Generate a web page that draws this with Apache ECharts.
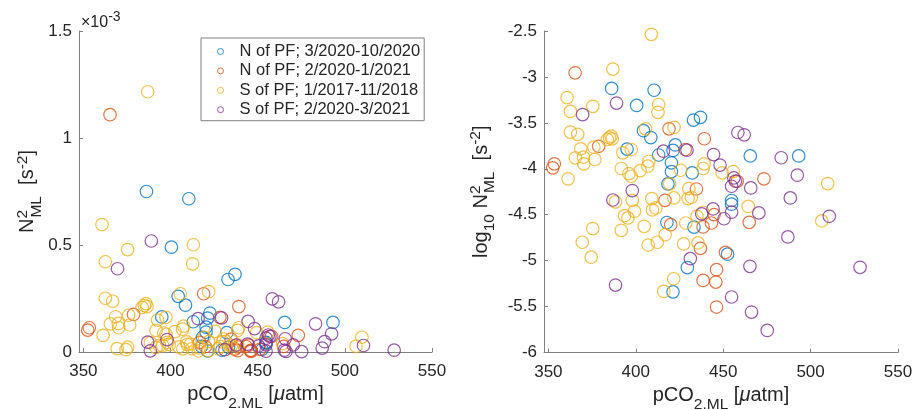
<!DOCTYPE html>
<html>
<head>
<meta charset="utf-8">
<script src="https://cdn.jsdelivr.net/npm/echarts@6/dist/echarts.min.js"></script>
<style>html,body{margin:0;padding:0;background:#fff}#c{width:916px;height:410px}</style>
</head>
<body>
<div id="c"></div>
<script>
// ---- data (pCO2 in uatm, log10 of N^2 in s^-2) ----
const seriesNames = ['N of PF; 3/2020-10/2020', 'N of PF; 2/2020-1/2021', 'S of PF; 1/2017-11/2018', 'S of PF; 2/2020-3/2021'];
const xTicks = [350, 400, 450, 500, 550];

const blueX = [386.2, 410.5, 400.5, 433.0, 437.0, 404.4, 408.6, 395.0, 422.6, 421.3, 413.1, 465.5, 493.2, 420.4, 420.4, 432.3, 418.4, 454.8, 454.8, 417.8, 433.3, 452.5, 429.5, 421.3];
const blueLog = [-3.125, -3.145, -3.31, -3.47, -3.44, -3.585, -3.66, -3.785, -3.74, -3.80, -3.85, -3.86, -3.86, -3.935, -4.03, -4.045, -4.165, -4.345, -4.385, -4.585, -4.635, -4.93, -5.075, -5.34];

const redX = [365.3, 347.1, 419.0, 439.2, 378.8, 428.3, 353.4, 352.5, 458.0, 473.3, 434.7, 416.7, 420.0, 443.3, 444.8, 438.5, 437.0, 464.9, 451.3, 446.2, 438.5, 445.8, 446.2];
const redLog = [-2.955, -3.51, -3.565, -3.673, -3.755, -3.79, -3.946, -3.99, -4.136, -4.109, -4.22, -4.343, -4.608, -4.59, -4.499, -4.633, -4.866, -4.583, -4.91, -5.098, -5.215, -5.233, -5.505];

const yellowX = [408.9, 386.9, 360.7, 362.6, 375.4, 413.1, 412.7, 362.6, 366.8, 405.6, 421.9, 383.7, 385.0, 385.9, 386.5, 376.0, 368.5, 397.4, 392.6, 365.5, 370.1, 376.6, 370.3, 361.3, 391.7, 396.1, 397.4, 402.5, 406.9, 407.5, 419.4, 425.7, 438.5, 439.1, 449.4, 455.7, 509.8, 430.4, 421.8, 429.9, 431.8, 388.4, 398.0, 409.2, 393.6, 395.5, 399.3, 409.5, 411.5, 375.4, 369.4, 374.5, 391.7, 404.8, 407.1, 412.3, 416.8, 416.0, 421.7, 428.6, 427.4, 435.6, 435.0, 438.5, 464.3, 506.4];
const yellowLog = [-2.536, -2.915, -3.225, -3.375, -3.32, -3.30, -3.385, -3.60, -3.625, -3.565, -3.55, -3.681, -3.663, -3.645, -3.674, -3.765, -3.783, -3.79, -3.826, -3.881, -3.874, -3.899, -3.946, -4.109, -3.997, -4.052, -4.081, -4.02, -3.972, -3.918, -4.164, -4.016, -3.997, -3.946, -4.044, -4.03, -4.161, -4.215, -4.317, -4.324, -4.31, -4.36, -4.343, -4.324, -4.51, -4.535, -4.462, -4.448, -4.426, -4.651, -4.80, -4.962, -4.67, -4.626, -4.83, -4.80, -4.717, -5.335, -5.197, -4.59, -4.818, -4.807, -4.517, -4.473, -4.41, -4.568];

const purpleX = [389.0, 369.6, 458.4, 462.0, 415.8, 429.3, 444.5, 483.2, 448.2, 492.4, 456.1, 457.0, 454.8, 465.8, 488.4, 398.0, 386.9, 444.2, 437.7, 450.5, 454.8, 470.4, 510.7, 487.0, 431.2, 465.3, 528.3, 388.4, 454.8, 466.2, 475.2];
const purpleLog = [-3.285, -3.41, -3.605, -3.63, -3.808, -3.797, -3.845, -3.88, -3.96, -4.07, -4.10, -4.135, -4.19, -4.208, -4.317, -4.237, -4.34, -4.437, -4.49, -4.544, -4.472, -4.48, -4.517, -4.742, -4.978, -5.062, -5.073, -5.266, -5.396, -5.56, -5.76];

// ---- styling ----
const FONT = 'Liberation Sans, Arial, Helvetica, sans-serif';
const colors = ['#0072BD', '#D95319', '#EDB120', '#7E2F8E'];
const AXC = '#7f7f7f';
const TXT = '#262626';
const groups = [[blueX, blueLog], [redX, redLog], [yellowX, yellowLog], [purpleX, purpleLog]];

const titleRich = {
  m: {fontSize: 20, fontFamily: FONT, color: TXT, lineHeight: 34, align: 'left'},
  mu: {fontSize: 20, fontFamily: FONT, color: TXT, lineHeight: 34, align: 'left', fontStyle: 'italic'},
  sub: {fontSize: 15.5, fontFamily: FONT, color: TXT, lineHeight: 15.5, verticalAlign: 'bottom', align: 'left'},
  sup: {fontSize: 15.5, fontFamily: FONT, color: TXT, lineHeight: 15.5, verticalAlign: 'top', align: 'left', padding: [4, 0, 0, 0]},
  sup0: {fontSize: 15.5, fontFamily: FONT, color: TXT, lineHeight: 15.5, verticalAlign: 'top', align: 'left', width: 1, padding: [4, 0, 0, 0]}
};

function xAxis(gi) {
  return {
    type: 'value', gridIndex: gi, min: 347.5, max: 550,
    axisLine: {onZero: false, lineStyle: {color: AXC, width: 1}},
    axisTick: {inside: true, length: 4, customValues: xTicks, lineStyle: {color: AXC}},
    axisLabel: {customValues: xTicks, color: TXT, fontSize: 17, fontFamily: FONT, margin: 11},
    splitLine: {show: false},
    name: '{m|pCO}{sub|2.ML}{m| [}{mu|μ}{m|atm]}',
    nameLocation: 'middle', nameGap: 24,
    nameTextStyle: {rich: titleRich}
  };
}
function yAxis(gi, min, max, name, gap) {
  return {
    type: 'value', gridIndex: gi, min: min, max: max, interval: 0.5,
    axisLine: {show: true, onZero: false, lineStyle: {color: AXC, width: 1}},
    axisTick: {show: true, inside: true, length: 4, lineStyle: {color: AXC}},
    axisLabel: {color: TXT, fontSize: 17, fontFamily: FONT, margin: 7},
    splitLine: {show: false},
    name: name, nameLocation: 'middle', nameGap: gap, nameRotate: 90,
    nameTextStyle: {rich: titleRich}
  };
}

const series = [];
groups.forEach((g, i) => {
  // left panel: same measurements in linear units (x 1e-3 s^-2)
  series.push({
    type: 'scatter', name: seriesNames[i], xAxisIndex: 0, yAxisIndex: 0,
    symbol: 'circle', symbolSize: 12.5, clip: true,
    itemStyle: {color: 'transparent', borderColor: colors[i], borderWidth: 1.2},
    data: g[0].map((x, k) => [x, Math.pow(10, g[1][k] + 3)]),
    z: 2 + i
  });
  series.push({
    type: 'scatter', name: seriesNames[i], xAxisIndex: 1, yAxisIndex: 1,
    symbol: 'circle', symbolSize: 12.5, clip: true,
    itemStyle: {color: 'transparent', borderColor: colors[i], borderWidth: 1.2},
    data: g[0].map((x, k) => [x, g[1][k]]),
    z: 2 + i
  });
});

const chart = echarts.init(document.getElementById('c'), null, {renderer: 'canvas'});
chart.setOption({
  animation: false,
  backgroundColor: '#fff',
  grid: [
    {left: 79, top: 31, width: 353, height: 321, containLabel: false, outerBoundsMode: 'none'},
    {left: 544, top: 31, width: 354, height: 321.5, containLabel: false, outerBoundsMode: 'none'}
  ],
  xAxis: [xAxis(0), xAxis(1)],
  yAxis: [
    yAxis(0, 0, 1.5, '{m|N}{sup0|2}{sub|ML}{m|  [s}{sup|-2}{m|]}', 33.5),
    yAxis(1, -6, -2.5, '{m|log}{sub|10}{m| N}{sup0|2}{sub|ML}{m|  [s}{sup|-2}{m|]}', 46)
  ],
  legend: {
    data: seriesNames, orient: 'vertical', left: 201, top: 38,
    itemWidth: 28, itemHeight: 6, itemGap: 2.4,
    padding: [5, 4, 2.5, 16],
    borderColor: AXC, borderWidth: 1, backgroundColor: '#fff',
    icon: 'circle', selectedMode: false,
    itemStyle: {color: 'transparent', borderWidth: 1},
    textStyle: {fontSize: 16.5, fontFamily: FONT, color: TXT, lineHeight: 16}
  },
  graphic: [{
    type: 'text', left: 81, top: 9,
    style: {
      text: '{a|×10}{b|-3}',
      rich: {
        a: {fontSize: 16, fontFamily: FONT, fill: TXT, lineHeight: 22, verticalAlign: 'bottom', align: 'left'},
        b: {fontSize: 14, fontFamily: FONT, fill: TXT, lineHeight: 14, verticalAlign: 'top', align: 'left', padding: [1.5, 0, 0, 0]}
      }
    }
  }],
  series: series
});
</script>
</body>
</html>
